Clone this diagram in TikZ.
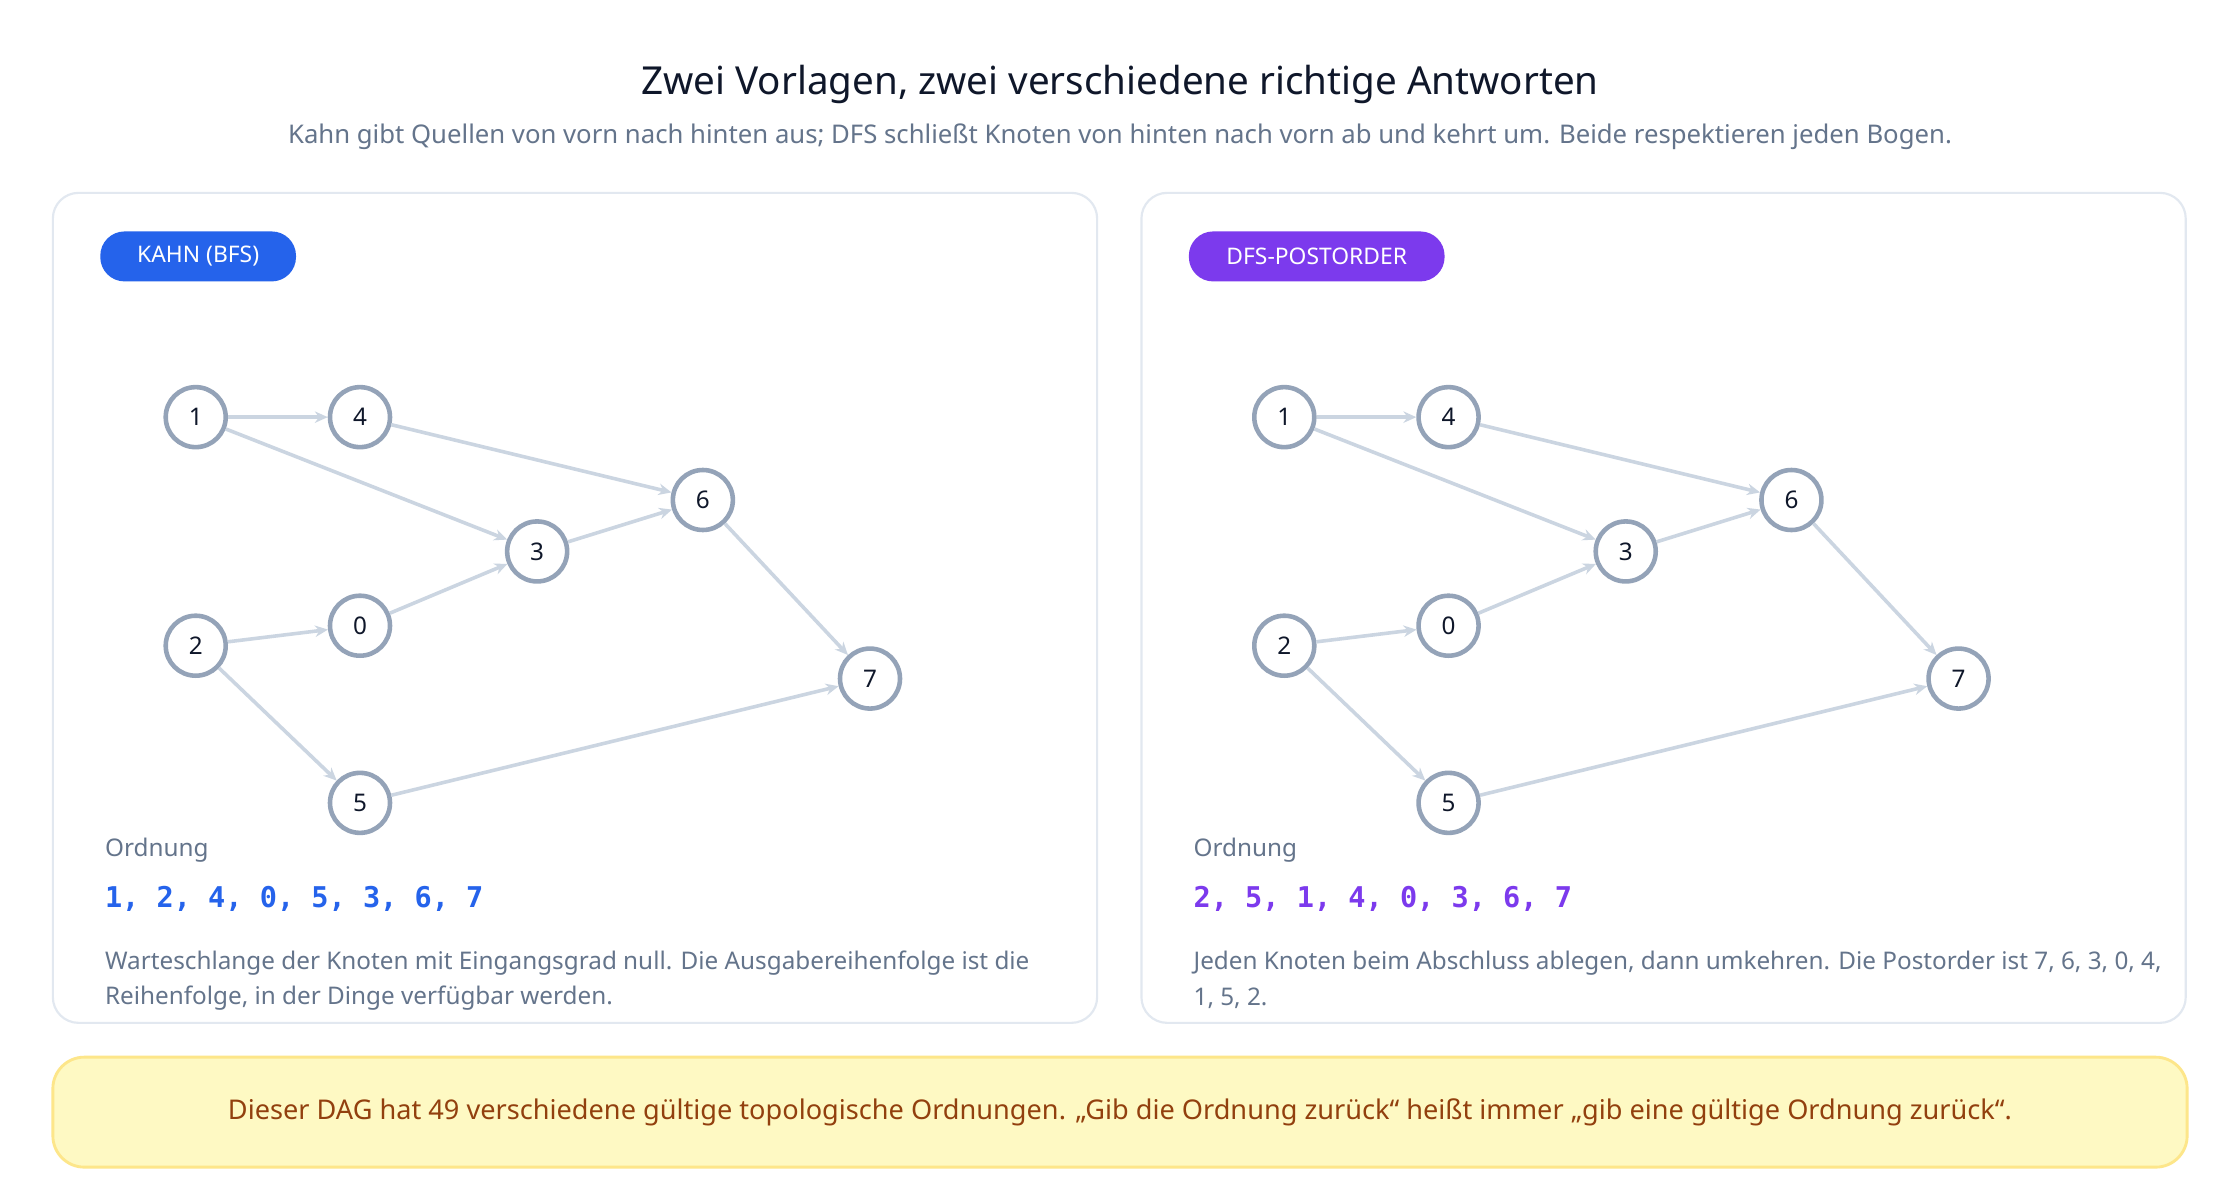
\documentclass[tikz,border=0pt]{standalone}
\usepackage{fontspec}
\setmainfont{Noto Sans}
\setmonofont{DejaVu Sans Mono}
\usetikzlibrary{arrows.meta}
\definecolor{ttl}{HTML}{0F172A}
\definecolor{sub}{HTML}{64748B}
\definecolor{panelb}{HTML}{E2E8F0}
\definecolor{nodeb}{HTML}{94A3B8}
\definecolor{edge}{HTML}{CBD5E1}
\definecolor{blu}{HTML}{2563EB}
\definecolor{pur}{HTML}{7C3AED}
\definecolor{noteb}{HTML}{FDE68A}
\definecolor{notef}{HTML}{FEF9C3}
\definecolor{notet}{HTML}{92400E}
\begin{document}
\begin{tikzpicture}[x=1pt,y=-1pt,
  panel/.style={draw=panelb,line width=1.5pt,rounded corners=18pt,fill=white},
  badge/.style={rounded corners=17pt,text=white,font=\fontsize{16}{18}\selectfont\bfseries,inner sep=0pt,minimum height=35pt,minimum width=#1},
  vert/.style={circle,draw=nodeb,line width=3.2pt,fill=white,minimum size=42pt,inner sep=0pt,font=\fontsize{17}{19}\selectfont\bfseries,text=ttl},
  edg/.style={draw=edge,line width=2.5pt,-{Stealth[length=9pt,width=8pt]}},
  lab/.style={anchor=west,font=\fontsize{17}{19}\selectfont\bfseries,text=sub},
  ord/.style={anchor=west,font=\fontsize{20}{22}\selectfont\ttfamily\bfseries},
  desc/.style={anchor=west,font=\fontsize{17}{19}\selectfont,text=sub}]
\useasboundingbox[fill=white] (0,0) rectangle (1568,840);
\node[font=\fontsize{27}{30}\selectfont\bfseries,text=ttl] (title) at (784,59) {Zwei Vorlagen, zwei verschiedene richtige Antworten};
\node[font=\fontsize{18}{21}\selectfont,text=sub] (subtitle) at (784,96) {Kahn gibt Quellen von vorn nach hinten aus; DFS schließt Knoten von hinten nach vorn ab und kehrt um. Beide respektieren jeden Bogen.};
\foreach \o/\bn/\bw/\bc/\bt/\ordtxt/\da/\db in {
  0/L/137pt/blu/{KAHN (BFS)}/{1, 2, 4, 0, 5, 3, 6, 7}/{Warteschlange der Knoten mit Eingangsgrad null. Die Ausgabereihenfolge ist die}/{Reihenfolge, in der Dinge verfügbar werden.},
  762/R/179pt/pur/{DFS-POSTORDER}/{2, 5, 1, 4, 0, 3, 6, 7}/{Jeden Knoten beim Abschluss ablegen, dann umkehren. Die Postorder ist 7, 6, 3, 0, 4,}/{1, 5, 2.}}{
  \begin{scope}[xshift=\o pt]
  \draw[panel] (37,135) rectangle (768,716);
  \node[badge=\bw,fill=\bc,anchor=west] (badge\bn) at (70,179.5) {\bt};
  \node[vert] (n1\bn) at (137,292) {1};
  \node[vert] (n4\bn) at (252,292) {4};
  \node[vert] (n6\bn) at (492,350) {6};
  \node[vert] (n3\bn) at (376,386) {3};
  \node[vert] (n0\bn) at (252,438) {0};
  \node[vert] (n2\bn) at (137,452) {2};
  \node[vert] (n7\bn) at (609,475) {7};
  \node[vert] (n5\bn) at (252,562) {5};
  \foreach \a/\b in {1/4,1/3,4/6,3/6,0/3,2/0,2/5,6/7,5/7}{
    \draw[edg] (n\a\bn) -- (n\b\bn);}
  \node[lab] (ordlab\bn) at (70,595) {Ordnung};
  \node[ord,text=\bc] (ord\bn) at (70,629) {\ordtxt};
  \node[desc] (da\bn) at (70,674) {\da};
  \node[desc] (db\bn) at (70,699) {\db};
  \end{scope}}
\draw[fill=notef,draw=noteb,line width=2pt,rounded corners=22pt] (37,740) rectangle (1531,817);
\node[font=\fontsize{19}{22}\selectfont\bfseries,text=notet] (note) at (784,779) {Dieser DAG hat 49 verschiedene gültige topologische Ordnungen. „Gib die Ordnung zurück“ heißt immer „gib eine gültige Ordnung zurück“.};
\end{tikzpicture}
\end{document}
